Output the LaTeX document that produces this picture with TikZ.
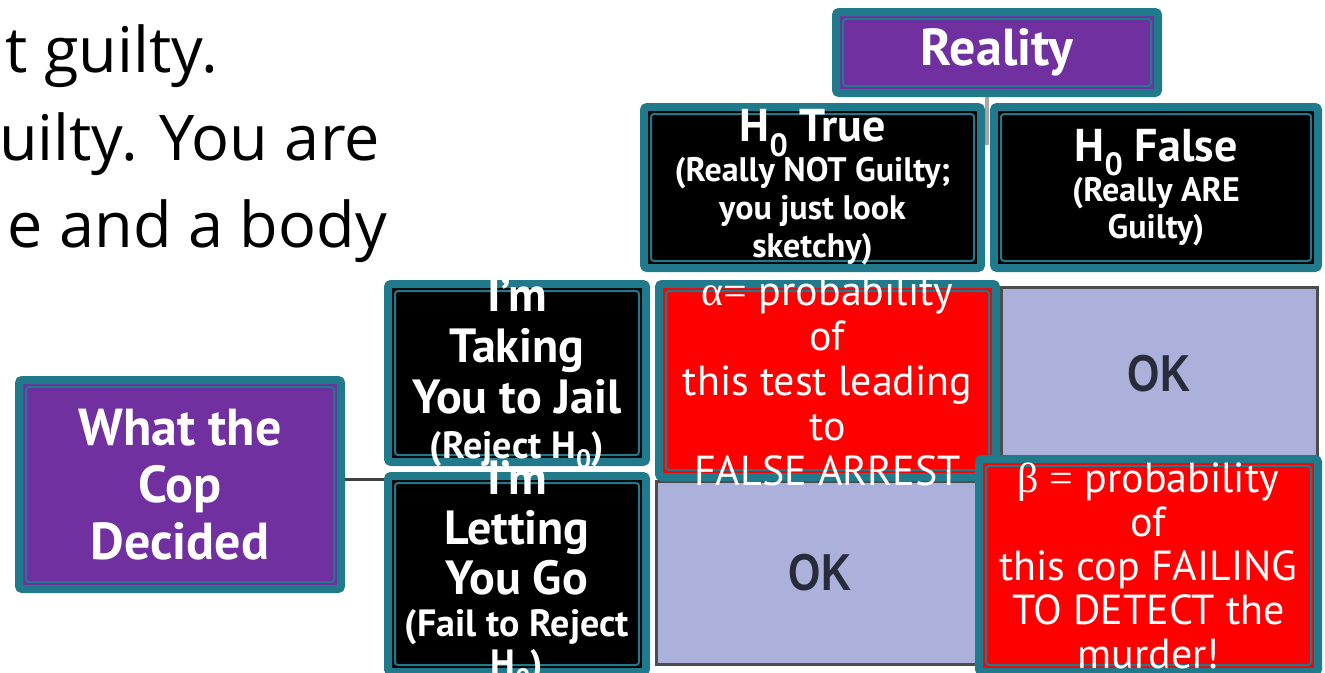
\documentclass[tikz,border=0pt]{standalone}
\usepackage{fontspec}
\setmainfont{PT Sans}
\newfontfamily\slidefont{Open Sans}
\newfontfamily\greekfont{Liberation Serif}
\newfontfamily\okfont{Liberation Sans}

\definecolor{tealc}{RGB}{33,122,140}
\definecolor{purplec}{RGB}{112,48,160}
\definecolor{okfill}{RGB}{172,177,220}
\definecolor{oktext}{RGB}{40,44,58}

\newcommand{\Hzero}{H\textsubscript{0}}
\newcommand{\smalltxt}{\fontsize{38}{42}\selectfont}

\tikzset{
  cell/.style={draw=tealc, line width=8pt, fill=#1, rounded corners=3pt, inner sep=0pt,
    path picture={\draw[tealc, line width=2pt]
      ([shift={(7pt,-7pt)}]path picture bounding box.north west) rectangle
      ([shift={(-7pt,7pt)}]path picture bounding box.south east);}},
  okbox/.style={draw=black!70, line width=3pt, fill=okfill, inner sep=0pt},
  oktxt/.style={text=oktext, font=\okfont\bfseries\fontsize{52}{52}\selectfont},
  celltxt/.style={text=white, align=center, inner sep=0pt},
}

\begin{document}
\begin{tikzpicture}[x=1pt, y=-1pt]
    \useasboundingbox (0,0) rectangle (1325,672);
    \clip (0,0) rectangle (1325,672);

    % Slide text, cut at the left edge
    \begin{scope}[every node/.style={anchor=base east, inner sep=0pt, font=\slidefont\fontsize{63}{70}\selectfont}]
      \node (lineA) at (218,72) {t guilty.};
      \node (lineB) at (380,160) {uilty. You are};
      \node (lineC) at (387,247) {e and a body};
    \end{scope}

    % Connectors
    \coordinate (hsplit) at (987,145);
    \coordinate (vsplit) at (387,479);

    % Boxes
    \node[cell=purplec, minimum width=322, minimum height=81] (reality) at (997,52.5) {};
    \draw[black!35, line width=4pt] (reality.south -| hsplit) -- (hsplit);
    \node[cell=black, minimum width=337, minimum height=161] (trueH) at (812.5,187.5) {};
    \node[cell=black, minimum width=324, minimum height=161] (falseH) at (1156,187.5) {};
    \node[cell=purplec, minimum width=322, minimum height=209] (cop) at (180,484.5) {};
    \draw[black!75, line width=3pt] (cop.east |- vsplit) -- (vsplit);
    \node[cell=black, minimum width=258, minimum height=178] (take) at (517,373) {};
    \node[cell=black, minimum width=258, minimum height=196] (letgo) at (517,574) {};
    \node[okbox, minimum width=316, minimum height=174] (okA) at (1159,374) {};
    \node[okbox, minimum width=328, minimum height=183] (okB) at (820,572.5) {};
    \node[cell=red, minimum width=337, minimum height=193] (alpha) at (827.5,380.5) {};
    \node[cell=red, minimum width=339, minimum height=213] (beta) at (1148.5,565.5) {};

    % Texts
    \node[celltxt, font=\fontsize{52}{56}\selectfont\bfseries] (realityT) at (reality) {Reality};
    \node[celltxt, font=\fontsize{52}{57}\selectfont\bfseries] (copT) at (cop) {What the\\Cop\\Decided};
    \node[celltxt, font=\fontsize{34}{38}\selectfont\bfseries] (trueT) at (trueH)
      {{\fontsize{46}{40}\selectfont\Hzero{} True}\\(Really NOT Guilty;\\you just look\\sketchy)};
    \node[celltxt, font=\fontsize{34}{37}\selectfont\bfseries] (falseT) at (falseH)
      {{\fontsize{46}{40}\selectfont\Hzero{} False}\\(Really ARE\\Guilty)};
    \node[celltxt, font=\fontsize{48}{51}\selectfont\bfseries] (takeT) at (take)
      {I’m\\Taking\\You to Jail\\[-6pt]{\smalltxt(Reject \Hzero)}};
    \node[celltxt, font=\fontsize{48}{50}\selectfont\bfseries] (letgoT) at (letgo)
      {I’m\\Letting\\You Go\\[-8pt]{\smalltxt(Fail to Reject}\\[-10pt]{\smalltxt\Hzero)}};
    \node[celltxt, font=\fontsize{42}{45}\selectfont] (alphaT) at (alpha)
      {{\greekfont α=} probability\\of\\this test leading\\to\\FALSE ARREST};
    \node[celltxt, font=\fontsize{42}{44}\selectfont] (betaT) at (beta)
      {{\greekfont β =} probability\\of\\this cop FAILING\\TO DETECT the\\murder!};
    \node[oktxt] (okAT) at (okA) {\scalebox{0.8}[1]{OK}};
    \node[oktxt] (okBT) at (okB) {\scalebox{0.8}[1]{OK}};
\end{tikzpicture}
\end{document}
